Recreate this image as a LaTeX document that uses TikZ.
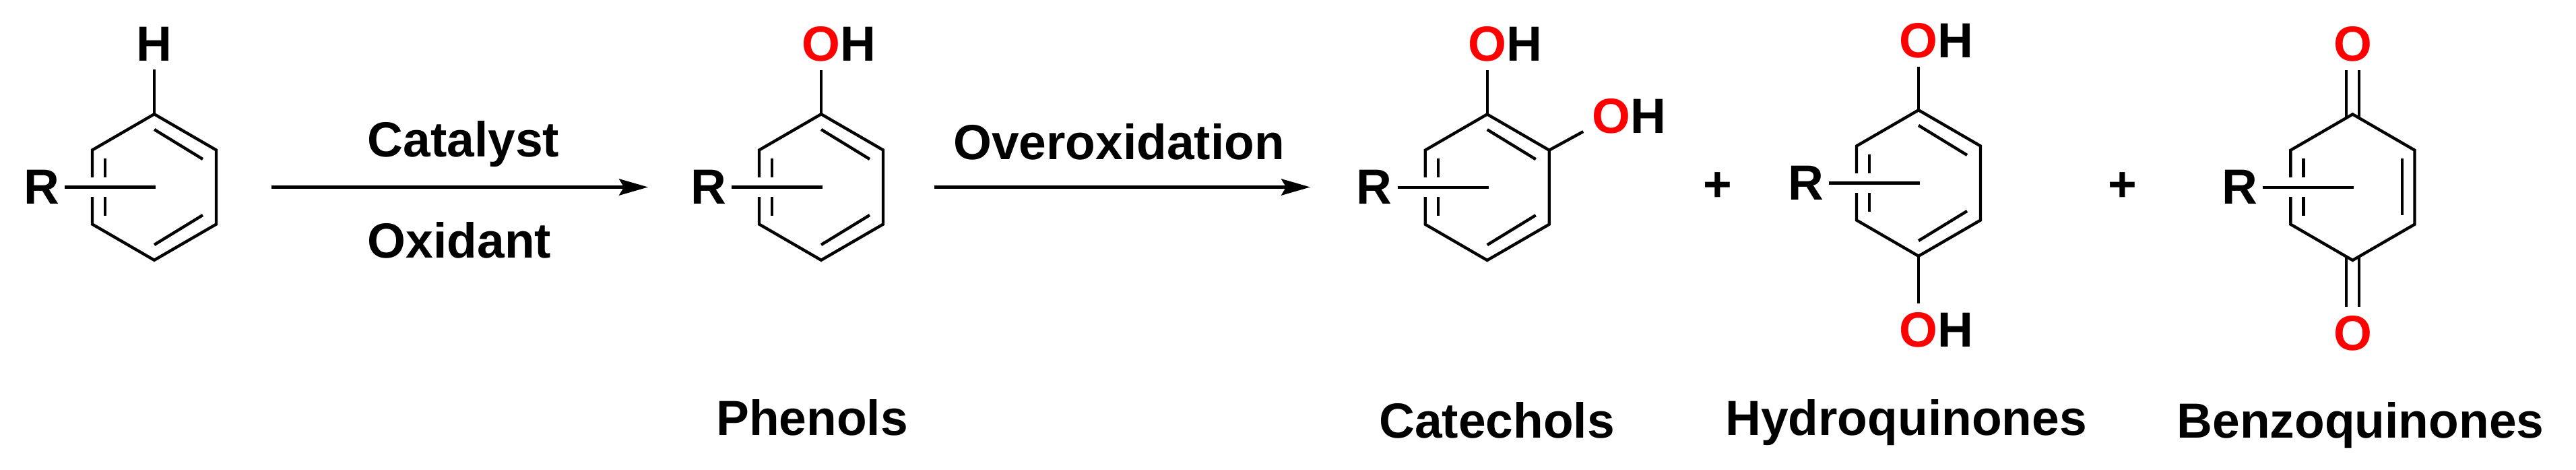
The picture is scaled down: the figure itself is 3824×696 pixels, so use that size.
\documentclass[tikz,border=0pt]{standalone}
\usepackage{fontspec}
\setmainfont{Liberation Sans}
\usetikzlibrary{arrows.meta}
\definecolor{oxred}{RGB}{255,0,0}
\tikzset{
    bond/.style={line width=1.25pt},
    reagent/.style={font=\fontsize{20.8}{25}\selectfont\bfseries, inner sep=0pt},
    atom/.style={reagent, outer sep=3.8pt},
    rgroup/.style={reagent, outer sep=2.3pt},
    rxnarrow/.style={line width=1.35pt, -{Stealth[length=12.2pt, width=6.9pt, inset=2pt]}},
    % ring with the substituent R crossing its left side
    benzring/.pic={
        \coordinate (-top) at (0,-108.25);
        \coordinate (-ur) at (92,-55);
        \coordinate (-lr) at (92,55);
        \coordinate (-bot) at (0,108.25);
        \coordinate (-ll) at (-92,55);
        \coordinate (-ul) at (-92,-55);
        \coordinate (-gapu) at (-92,-14.5);
        \coordinate (-gapl) at (-92,14.5);
        \coordinate (-rend) at (2,0);
        \draw[bond] (-gapu) -- (-ul) -- (-top) -- (-ur) -- (-lr) -- (-bot) -- (-ll) -- (-gapl);
        \draw[bond] (-73,-42.5) -- (-73,-14.5);
        \draw[bond] (-73,14.5) -- (-73,42.5);
        \node[rgroup] (-R) at (-167.5,0) {R};
        \draw[bond] (-R) -- (-rend);
    },
    % the two slanted inner lines of an aromatic ring
    aromlines/.pic={
        \draw[bond] (0,-85.5) -- (72,-41.5);
        \draw[bond] (72,41.5) -- (0,85.5);
    }
}
\begin{document}
\begin{tikzpicture}[x=0.01cm, y=-0.01cm]
    \useasboundingbox (0,0) rectangle (3824,696);

    % Starting arene
    \pic (sub) at (229,277.5) {benzring};
    \pic at (229,277.5) {aromlines};
    \node[atom, anchor=base] (subH) at (229,90) {H};
    \draw[bond] (subH) -- (sub-top);

    % First arrow
    \coordinate (arrowAs) at (403,277.5);
    \coordinate (arrowAe) at (962,277.5);
    \draw[rxnarrow] (arrowAs) -- (arrowAe);
    \node[reagent, anchor=base] (catalyst) at (688,232) {Catalyst};
    \node[reagent, anchor=base] (oxidant) at (682,382) {Oxidant};

    % Phenol
    \pic (phen) at (1219,277.5) {benzring};
    \pic at (1219,277.5) {aromlines};
    \node[atom, anchor=base] (phenO) at (1219,90) {\textcolor{oxred}{O}\rlap{H}};
    \draw[bond] (phenO) -- (phen-top);
    \node[reagent, anchor=base] (phenols) at (1205.5,645) {Phenols};

    % Second arrow
    \coordinate (arrowBs) at (1387,277.5);
    \coordinate (arrowBe) at (1945,277.5);
    \draw[rxnarrow] (arrowBs) -- (arrowBe);
    \node[reagent, anchor=base] (overox) at (1661,236) {Overoxidation};

    % Catechol
    \pic (cat) at (2207.7,277.7) {benzring};
    \pic at (2207.7,277.7) {aromlines};
    \node[atom, anchor=base] (catOa) at (2207.7,90) {\textcolor{oxred}{O}\rlap{H}};
    \node[atom, anchor=base] (catOb) at (2392,197.5) {\textcolor{oxred}{O}\rlap{H}};
    \draw[bond] (catOa) -- (cat-top);
    \draw[bond] (catOb) -- (cat-ur);
    \node[reagent, anchor=base] (catechols) at (2222,649) {Catechols};

    \node[reagent] (plusA) at (2549.5,277) {+};

    % Hydroquinone
    \pic (hyd) at (2848,271.5) {benzring};
    \pic at (2848,271.5) {aromlines};
    \node[atom, anchor=base] (hydOa) at (2848,85) {\textcolor{oxred}{O}\rlap{H}};
    \node[atom, anchor=base] (hydOb) at (2848,514.5) {\textcolor{oxred}{O}\rlap{H}};
    \draw[bond] (hydOa) -- (hyd-top);
    \draw[bond] (hydOb) -- (hyd-bot);
    \node[reagent, anchor=base] (hydroq) at (2829.5,645) {Hydroquinones};

    \node[reagent] (plusB) at (3150.5,277) {+};

    % Benzoquinone
    \pic (quin) at (3492.4,277.7) {benzring};
    \draw[bond] (3565.7,235) -- (3565.7,319);
    \node[atom, anchor=base] (quinOa) at (3492.4,90) {\textcolor{oxred}{O}};
    \node[atom, anchor=base] (quinOb) at (3492.4,519) {\textcolor{oxred}{O}};
    \draw[bond] ([xshift=-2.7pt]quinOa.south) -- ([xshift=-2.7pt,yshift=-1.6pt]quin-top);
    \draw[bond] ([xshift=2.7pt]quinOa.south) -- ([xshift=2.7pt,yshift=-1.6pt]quin-top);
    \draw[bond] ([xshift=-2.7pt]quinOb.north) -- ([xshift=-2.7pt,yshift=1.6pt]quin-bot);
    \draw[bond] ([xshift=2.7pt]quinOb.north) -- ([xshift=2.7pt,yshift=1.6pt]quin-bot);
    \node[reagent, anchor=base] (benzoq) at (3504,649) {Benzoquinones};
\end{tikzpicture}
\end{document}
